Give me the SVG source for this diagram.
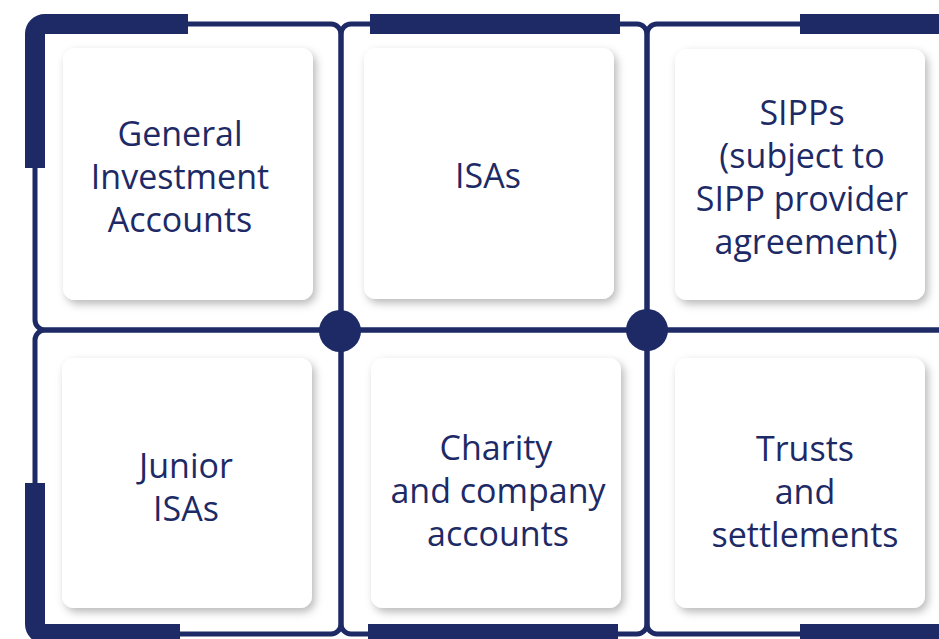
<svg xmlns="http://www.w3.org/2000/svg" width="939" height="639" viewBox="0 0 939 639">
<defs>
<filter id="sh" x="-10%" y="-10%" width="125%" height="125%">
<feDropShadow dx="3" dy="4" stdDeviation="4.5" flood-color="#000" flood-opacity="0.28"/>
</filter>
<style>
.cell{fill:none;stroke:#1d2a66;stroke-width:5}
.thick{fill:none;stroke:#1d2a66;stroke-width:20;stroke-linecap:butt}
.dot{fill:#1d2a66}
.card{fill:#fff;filter:url(#sh)}
.lbl{font-family:"Open Sans","Noto Sans",sans-serif;font-size:34px;fill:#1d2a66;text-anchor:middle}
</style>
</defs>
<rect width="939" height="639" fill="#fff"/>
<g id="frame">
<rect class="cell" x="35" y="24" width="306" height="306" rx="10"/>
<rect class="cell" x="341" y="24" width="306" height="306" rx="10"/>
<rect class="cell" x="647" y="24" width="320" height="306" rx="10"/>
<rect class="cell" x="35" y="330" width="306" height="304" rx="10"/>
<rect class="cell" x="341" y="330" width="306" height="304" rx="10"/>
<rect class="cell" x="647" y="330" width="320" height="304" rx="10"/>
<path class="thick" d="M35,168 V34 A10,10 0 0 1 45,24 H188"/>
<path class="thick" d="M370,24 H620"/>
<path class="thick" d="M800,24 H960"/>
<path class="thick" d="M35,483 V624 A10,10 0 0 0 45,634 H180"/>
<path class="thick" d="M368,634 H618"/>
<path class="thick" d="M800,634 H960"/>
<circle class="dot" cx="340" cy="331" r="21"/>
<circle class="dot" cx="647" cy="330" r="21"/>
</g>
<g id="node-gia">
<rect class="card" x="63" y="48" width="250" height="252" rx="12"/>
<text class="lbl"><tspan x="180" y="146">General</tspan><tspan x="180" y="189">Investment</tspan><tspan x="180" y="232">Accounts</tspan></text>
</g>
<g id="node-isas">
<rect class="card" x="364" y="48" width="250" height="251" rx="12"/>
<text class="lbl" x="488" y="188">ISAs</text>
</g>
<g id="node-sipps">
<rect class="card" x="675" y="49" width="250" height="251" rx="12"/>
<text class="lbl"><tspan x="802" y="125">SIPPs</tspan><tspan x="802" y="168">(subject to</tspan><tspan x="802" y="211">SIPP provider</tspan><tspan x="806" y="254">agreement)</tspan></text>
</g>
<g id="node-jisas">
<rect class="card" x="62" y="358" width="250" height="250" rx="12"/>
<text class="lbl"><tspan x="186" y="478">Junior</tspan><tspan x="186" y="521">ISAs</tspan></text>
</g>
<g id="node-charity">
<rect class="card" x="371" y="358" width="250" height="250" rx="12"/>
<text class="lbl"><tspan x="496" y="460">Charity</tspan><tspan x="498" y="503">and company</tspan><tspan x="498" y="546">accounts</tspan></text>
</g>
<g id="node-trusts">
<rect class="card" x="675" y="358" width="250" height="250" rx="12"/>
<text class="lbl"><tspan x="805" y="461">Trusts</tspan><tspan x="805" y="504">and</tspan><tspan x="805" y="547">settlements</tspan></text>
</g>
</svg>
